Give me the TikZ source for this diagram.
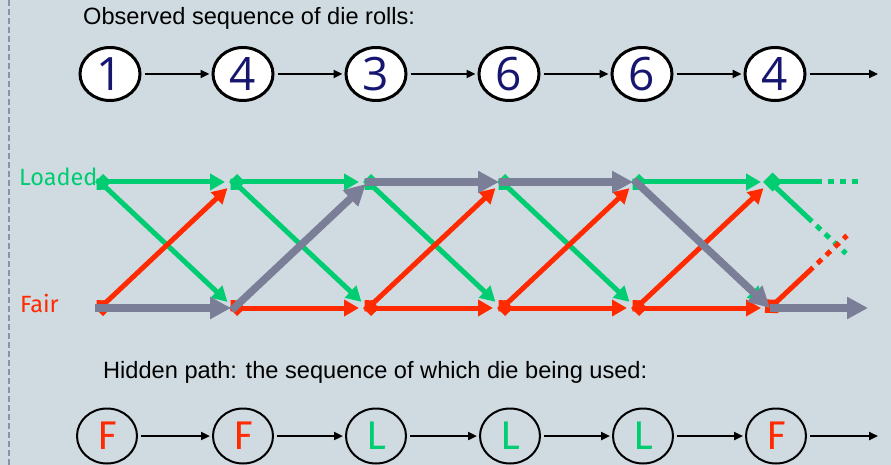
\documentclass[tikz,border=0pt]{standalone}
\usepackage{fontspec}
\setmainfont{Liberation Sans}
\newfontfamily\digitfont{Open Sans}
\newfontfamily\handfont{Fira Sans}
\usetikzlibrary{arrows.meta,shapes.geometric}
\definecolor{bgc}{HTML}{CFDBE0}
\definecolor{ggreen}{HTML}{00CC72}
\definecolor{rred}{HTML}{FF2A00}
\definecolor{ggrey}{HTML}{7A7E97}
\definecolor{navy}{HTML}{161670}
\definecolor{dashc}{HTML}{8A92AA}
\tikzset{
  obs/.style={ellipse, draw=black, line width=3pt, fill=white, minimum width=60pt, minimum height=53pt, inner sep=0pt, text=navy, font=\digitfont\fontsize{46}{46}\selectfont},
  hid/.style={ellipse, draw=black, line width=2pt, minimum width=60pt, minimum height=55pt, inner sep=0pt, font=\handfont\fontsize{40}{40}\selectfont},
  seqarr/.style={draw=black, line width=2.6pt, -{Triangle[length=9pt,width=8pt]}, shorten <=3pt, shorten >=2pt},
  garr/.style={draw=ggreen, line width=5pt, {Diamond[length=16pt,width=16pt]}-{Triangle[length=15pt,width=16pt]}, shorten >=9pt, shorten <=-5pt},
  rarr/.style={garr, draw=rred},
  grarr/.style={draw=ggrey, line width=7.5pt, -{Triangle[length=21pt,width=21pt]}, shorten >=3pt, shorten <=-3pt},
  dotted5/.style={line width=5pt, dash pattern=on 6pt off 6pt, dash phase=6pt},
  titletext/.style={anchor=base west, inner sep=0pt, font=\fontsize{23.6}{28}\selectfont},
  lbl/.style={anchor=west, inner sep=0pt, font=\handfont\fontsize{23.5}{23.5}\selectfont}
}
\begin{document}
\begin{tikzpicture}[x=1pt,y=-1pt]
\useasboundingbox (0,0) rectangle (891,465);
\fill[bgc] (0,0) rectangle (891,465);
\draw[dashc, line width=1.8pt, dash pattern=on 6pt off 3pt] (9,0) -- (9,465);

% top sequence
\node[titletext] (t1) at (83,25) {Observed sequence of die rolls:};
\node[obs] (o1) at (110,74) {1};
\node[obs] (o2) at (243,74) {4};
\node[obs] (o3) at (376,74) {3};
\node[obs] (o4) at (509,74) {6};
\node[obs] (o5) at (642,74) {6};
\node[obs] (o6) at (775,74) {4};
\coordinate (oend) at (878,74);
\draw[seqarr] (o1) -- (o2);
\draw[seqarr] (o2) -- (o3);
\draw[seqarr] (o3) -- (o4);
\draw[seqarr] (o4) -- (o5);
\draw[seqarr] (o5) -- (o6);
\draw[seqarr, shorten >=0pt] (o6) -- (oend);

% trellis
\node[lbl, text=ggreen] (lload) at (19,177) {Loaded};
\node[lbl, text=rred] (lfair) at (20,303) {Fair};
\foreach \i in {0,...,5} {
  \coordinate (L\i) at (100+134*\i,182);
  \coordinate (F\i) at (100+134*\i,308);
}
\foreach \i/\j in {0/1,1/2,2/3,3/4,4/5} {
  \draw[garr] (L\i) -- (L\j);
  \draw[garr] (L\i) -- (F\j);
}
\foreach \i/\j in {0/1,1/2,2/3,3/4,4/5} {
  \draw[rarr] (F\i) -- (L\j);
  \draw[rarr] (F\i) -- (F\j);
}
% trailing pieces of column 5
\coordinate (Ls) at (822,182);
\coordinate (Ld) at (860,182);
\coordinate (LFs) at (812,221.5);
\coordinate (LFd) at (846,253.5);
\coordinate (FLs) at (813,267.5);
\coordinate (FLd) at (847,235.5);
\draw[ggreen, line width=5pt, {Diamond[length=19pt,width=19pt]}-, shorten <=-7pt] (L5) -- (Ls);
\draw[ggreen, dotted5] (Ls) -- (Ld);
\draw[ggreen, line width=5pt] (L5) -- (LFs);
\draw[ggreen, dotted5] (LFs) -- (LFd);
\draw[rred, line width=5pt, {Diamond[length=19pt,width=19pt]}-, shorten <=-7pt] (F5) -- (FLs);
\draw[rred, dotted5] (FLs) -- (FLd);

% hidden path
\coordinate (Fend) at (868,308);
\draw[grarr, shorten <=-5pt] (F0) -- (F1);
\draw[grarr] (F1) -- (L2);
\draw[grarr] (L2) -- (L3);
\draw[grarr] (L3) -- (L4);
\draw[grarr, shorten >=0pt] (L4) -- (F5);
\draw[grarr, shorten >=0pt, shorten <=0pt] (F5) -- (Fend);

% bottom sequence
\node[titletext] (t2) at (103,378) {Hidden path: the sequence of which die being used:};
\node[hid, text=rred] (h1) at (107,436) {F};
\node[hid, text=rred] (h2) at (243,436) {F};
\node[hid, text=ggreen] (h3) at (376,436) {L};
\node[hid, text=ggreen] (h4) at (510,436) {L};
\node[hid, text=ggreen] (h5) at (643,436) {L};
\node[hid, text=rred] (h6) at (776,436) {F};
\coordinate (hend) at (878,436);
\draw[seqarr] (h1) -- (h2);
\draw[seqarr] (h2) -- (h3);
\draw[seqarr] (h3) -- (h4);
\draw[seqarr] (h4) -- (h5);
\draw[seqarr] (h5) -- (h6);
\draw[seqarr, shorten >=0pt] (h6) -- (hend);
\end{tikzpicture}
\end{document}
